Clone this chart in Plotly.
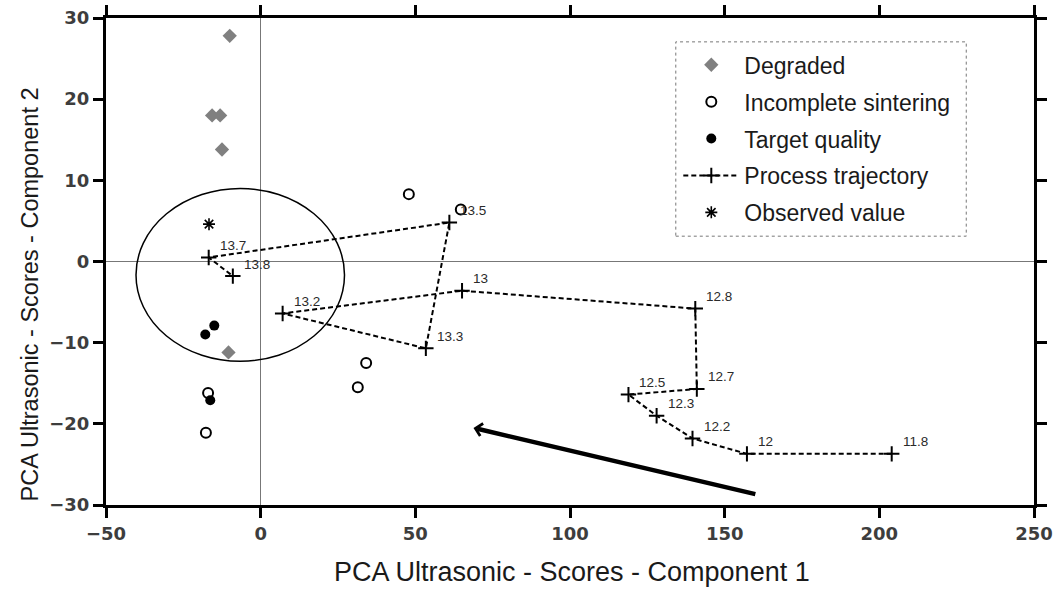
import plotly.graph_objects as go

# Sample groups in PCA score space (component 1, component 2)
degraded_x = [-10.0, -15.7, -13.1, -12.5, -10.4]
degraded_y = [27.8, 18.0, 18.0, 13.8, -11.2]

incomplete_x = [-17.0, -17.7, 34.1, 31.4, 47.9, 64.7]
incomplete_y = [-16.2, -21.1, -12.5, -15.5, 8.3, 6.4]

target_x = [-15.0, -17.9, -16.3]
target_y = [-7.9, -9.0, -17.1]

observed_x = [-16.7]
observed_y = [4.6]

# Process trajectory, labelled by process setting
traj_labels = ["11.8", "12", "12.2", "12.3", "12.5", "12.7", "12.8",
               "13", "13.2", "13.3", "13.5", "13.7", "13.8"]
traj_x = [204.0, 157.2, 139.6, 128.0, 118.9, 141.0, 140.5,
          65.1, 7.1, 53.4, 61.0, -16.8, -9.0]
traj_y = [-23.7, -23.7, -21.8, -19.0, -16.4, -15.7, -5.8,
          -3.6, -6.4, -10.7, 4.8, 0.5, -1.8]

# Target region (ellipse bounds) and direction arrow (head, tail)
target_region = {"x0": -40.3, "x1": 27.1, "y0": -12.3, "y1": 9.0}
arrow_head = (68.8, -20.5)
arrow_tail = (160.4, -28.7)

TEXT_FONT = "Liberation Sans, Arial, sans-serif"

fig = go.Figure()

fig.add_trace(go.Scatter(
    x=degraded_x, y=degraded_y, mode="markers", name="Degraded",
    legendgroup="a",
    marker=dict(symbol="diamond", size=11, color="#808080"),
))
fig.add_trace(go.Scatter(
    x=incomplete_x, y=incomplete_y, mode="markers", name="Incomplete sintering",
    legendgroup="b",
    marker=dict(symbol="circle-open", size=10, color="black",
                line=dict(width=2, color="black")),
))
fig.add_trace(go.Scatter(
    x=target_x, y=target_y, mode="markers", name="Target quality",
    legendgroup="c",
    marker=dict(symbol="circle", size=10, color="black"),
))
fig.add_trace(go.Scatter(
    x=traj_x, y=traj_y, mode="lines+markers", name="Process trajectory",
    legendgroup="d",
    line=dict(color="black", width=2, dash="5px,3px"),
    marker=dict(symbol="cross-thin", size=11, color="black",
                line=dict(width=2, color="black")),
))
fig.add_trace(go.Scatter(
    x=observed_x, y=observed_y, mode="markers", name="Observed value",
    legendgroup="e",
    marker=dict(symbol="asterisk", size=10, color="black",
                line=dict(width=1.6, color="black")),
))

annotations = []
for lbl, xv, yv in zip(traj_labels, traj_x, traj_y):
    annotations.append(dict(
        x=xv, y=yv, xref="x", yref="y", text=lbl, showarrow=False,
        xanchor="left", yanchor="middle", xshift=9, yshift=12,
        font=dict(family=TEXT_FONT, size=13.5, color="#2a2a2a"),
    ))

# Direction arrow
annotations.append(dict(
    x=arrow_head[0], y=arrow_head[1], ax=arrow_tail[0], ay=arrow_tail[1],
    xref="x", yref="y", axref="x", ayref="y", text="",
    showarrow=True, arrowhead=4, arrowsize=0.55, arrowwidth=4.5,
    arrowcolor="black", standoff=0, startstandoff=0,
))

# Axis titles
annotations.append(dict(
    x=0.502, y=-0.1376, xref="paper", yref="paper",
    text="PCA Ultrasonic - Scores - Component 1", showarrow=False,
    xanchor="center", yanchor="middle",
    font=dict(family=TEXT_FONT, size=27, color="#1a1a1a"),
))
annotations.append(dict(
    x=-0.0815, y=0.433, xref="paper", yref="paper",
    text="PCA Ultrasonic - Scores - Component 2", showarrow=False,
    textangle=-90, xanchor="center", yanchor="middle",
    font=dict(family=TEXT_FONT, size=23.5, color="#1a1a1a"),
))

shapes = [
    dict(type="circle", xref="x", yref="y", layer="above",
         x0=target_region["x0"], x1=target_region["x1"],
         y0=target_region["y0"], y1=target_region["y1"],
         line=dict(color="black", width=1.5)),
    # dotted legend frame
    dict(type="rect", xref="paper", yref="paper",
         x0=0.614, x1=0.927, y0=0.552, y1=0.951,
         line=dict(color="#777777", width=1, dash="dot")),
]

axis_common = dict(
    showline=True, linewidth=3, linecolor="black", mirror="ticks",
    ticks="outside", ticklen=10, tickwidth=3, tickcolor="black",
    showgrid=False, zeroline=True, zerolinecolor="#777777", zerolinewidth=1,
    automargin=False,
    tickfont=dict(family="DejaVu Sans", size=18, color="#3d3d3d", weight="bold"),
)

fig.update_layout(
    width=1057, height=590,
    margin=dict(l=106, r=23, t=18, b=85),
    paper_bgcolor="white", plot_bgcolor="white",
    xaxis=dict(range=[-50, 250], dtick=50, tick0=-50, **axis_common),
    yaxis=dict(range=[-30, 30], dtick=10, tick0=-30, **axis_common),
    showlegend=True,
    legend=dict(
        x=0.6167, y=0.948, xanchor="left", yanchor="top",
        bgcolor="rgba(0,0,0,0)", borderwidth=0,
        font=dict(family=TEXT_FONT, size=23, color="#1a1a1a"),
        tracegroupgap=4, itemwidth=56, traceorder="grouped",
    ),
    annotations=annotations,
    shapes=shapes,
)

fig.write_html("out.html")
